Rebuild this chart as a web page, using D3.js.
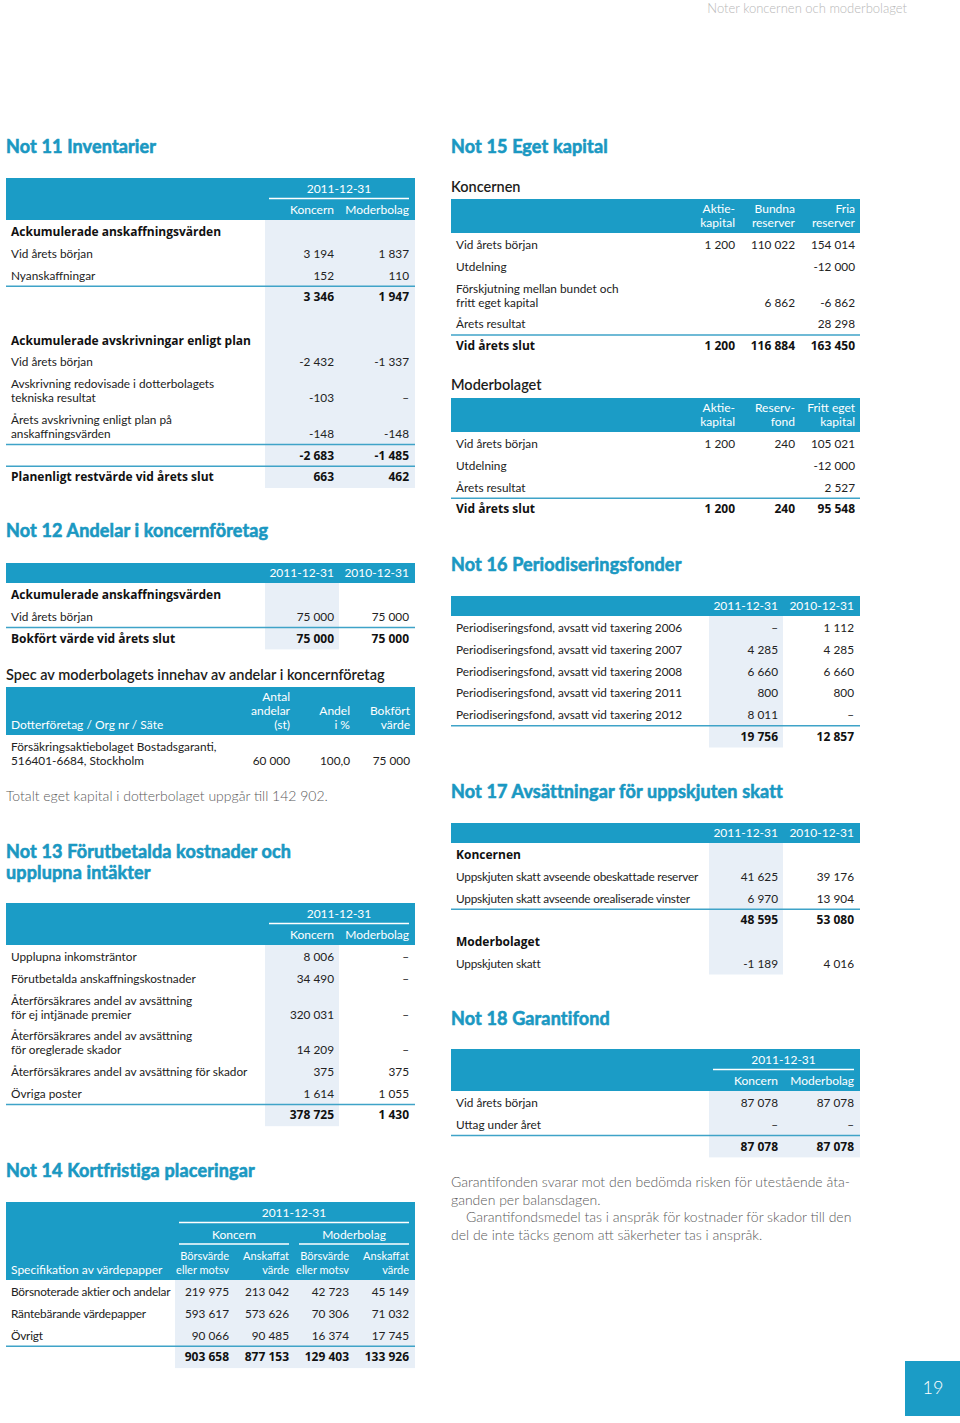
<!DOCTYPE html>
<html>
<head>
<meta charset="utf-8">
<script src="https://cdn.jsdelivr.net/npm/d3@7"></script>
<style>
  body { margin: 0; background: #fff; }
  svg { display: block; font-family: Lato, "Open Sans", sans-serif; }
  .title { fill: #1a98c2; stroke: #1a98c2; stroke-width: 0.6px; font-size: 18px; font-weight: 700; letter-spacing: 0.15px; }
  .sub { fill: #1d1d1b; font-size: 14.5px; font-weight: 600; }
  .head { fill: #fff; font-size: 12px; }
  .head.small { font-size: 11px; }
  .cell { fill: #222; font-size: 11.8px; }
  .cell.tight { letter-spacing: -0.2px; }
  .cell.bold { font-family: "Open Sans", Lato, sans-serif; font-size: 12px; font-weight: 700; fill: #111; }
  .para { fill: #5a5a5a; font-size: 14px; font-weight: 300; }
</style>
</head>
<body>
<div id="page"></div>
<script>
const width = 960;
const height = 1423;
const blue = '#1b9cc6';
const ruleColor = '#3fa3c8';
const shadeColor = '#e8eff7';
const pitch = 21.7;

// ---- data ----
const pageHeader = 'Noter koncernen och moderbolaget';
const pageNumber = '19';
const reportDate = '2011-12-31';
const dateColumns = [['2011-12-31'], ['2010-12-31']];
const entityColumns = [['Koncern'], ['Moderbolag']];

// Not 11
const not11Title = ['Not 11 Inventarier'];
const not11Rows = [
  { type: 'heading', label: ['Ackumulerade anskaffningsvärden'] },
  { type: 'item', label: ['Vid årets början'], values: [3194, 1837] },
  { type: 'item', label: ['Nyanskaffningar'], values: [152, 110] },
  { type: 'sum', values: [3346, 1947] },
  { type: 'blank' },
  { type: 'heading', label: ['Ackumulerade avskrivningar enligt plan'] },
  { type: 'item', label: ['Vid årets början'], values: [-2432, -1337] },
  { type: 'item', label: ['Avskrivning redovisade i dotterbolagets', 'tekniska resultat'], values: [-103, null] },
  { type: 'item', label: ['Årets avskrivning enligt plan på', 'anskaffningsvärden'], values: [-148, -148] },
  { type: 'sum', values: [-2683, -1485] },
  { type: 'total', label: ['Planenligt restvärde vid årets slut'], values: [663, 462] }
];

// Not 12
const not12Title = ['Not 12 Andelar i koncernföretag'];
const not12Rows = [
  { type: 'heading', label: ['Ackumulerade anskaffningsvärden'] },
  { type: 'item', label: ['Vid årets början'], values: [75000, 75000] },
  { type: 'total', label: ['Bokfört värde vid årets slut'], values: [75000, 75000] }
];
const specTitle = 'Spec av moderbolagets innehav av andelar i koncernföretag';
const specStub = ['Dotterföretag / Org nr / Säte'];
const specColumns = [['Antal', 'andelar', '(st)'], ['Andel', 'i %'], ['Bokfört', 'värde']];
const specFormats = [',d', ',.1f', ',d'];
const specRows = [
  { type: 'item', label: ['Försäkringsaktiebolaget Bostadsgaranti,', '516401-6684, Stockholm'], values: [60000, 100.0, 75000] }
];
const specNote = 'Totalt eget kapital i dotterbolaget uppgår till 142 902.';

// Not 13
const not13Title = ['Not 13 Förutbetalda kostnader och', 'upplupna intäkter'];
const not13Rows = [
  { type: 'item', label: ['Upplupna inkomsträntor'], values: [8006, null] },
  { type: 'item', label: ['Förutbetalda anskaffningskostnader'], values: [34490, null] },
  { type: 'item', label: ['Återförsäkrares andel av avsättning', 'för ej intjänade premier'], values: [320031, null] },
  { type: 'item', label: ['Återförsäkrares andel av avsättning', 'för oreglerade skador'], values: [14209, null] },
  { type: 'item', label: ['Återförsäkrares andel av avsättning för skador'], values: [375, 375] },
  { type: 'item', label: ['Övriga poster'], values: [1614, 1055] },
  { type: 'sum', values: [378725, 1430] }
];

// Not 14
const not14Title = ['Not 14 Kortfristiga placeringar'];
const not14Stub = ['Specifikation av värdepapper'];
const not14Columns = [['Börsvärde', 'eller motsv'], ['Anskaffat', 'värde'], ['Börsvärde', 'eller motsv'], ['Anskaffat', 'värde']];
const not14Rows = [
  { type: 'item', label: ['Börsnoterade aktier och andelar'], values: [219975, 213042, 42723, 45149] },
  { type: 'item', label: ['Räntebärande värdepapper'], values: [593617, 573626, 70306, 71032] },
  { type: 'item', label: ['Övrigt'], values: [90066, 90485, 16374, 17745] },
  { type: 'sum', values: [903658, 877153, 129403, 133926] }
];

// Not 15
const not15Title = ['Not 15 Eget kapital'];
const not15KoncernTitle = 'Koncernen';
const not15KoncernColumns = [['Aktie-', 'kapital'], ['Bundna', 'reserver'], ['Fria', 'reserver']];
const not15KoncernRows = [
  { type: 'item', label: ['Vid årets början'], values: [1200, 110022, 154014] },
  { type: 'item', label: ['Utdelning'], values: ['', '', -12000] },
  { type: 'item', label: ['Förskjutning mellan bundet och', 'fritt eget kapital'], values: ['', 6862, -6862] },
  { type: 'item', label: ['Årets resultat'], values: ['', '', 28298] },
  { type: 'total', label: ['Vid årets slut'], values: [1200, 116884, 163450] }
];
const not15ModerTitle = 'Moderbolaget';
const not15ModerColumns = [['Aktie-', 'kapital'], ['Reserv-', 'fond'], ['Fritt eget', 'kapital']];
const not15ModerRows = [
  { type: 'item', label: ['Vid årets början'], values: [1200, 240, 105021] },
  { type: 'item', label: ['Utdelning'], values: ['', '', -12000] },
  { type: 'item', label: ['Årets resultat'], values: ['', '', 2527] },
  { type: 'total', label: ['Vid årets slut'], values: [1200, 240, 95548] }
];

// Not 16
const not16Title = ['Not 16 Periodiseringsfonder'];
const not16Rows = [
  { type: 'item', label: ['Periodiseringsfond, avsatt vid taxering 2006'], values: [null, 1112] },
  { type: 'item', label: ['Periodiseringsfond, avsatt vid taxering 2007'], values: [4285, 4285] },
  { type: 'item', label: ['Periodiseringsfond, avsatt vid taxering 2008'], values: [6660, 6660] },
  { type: 'item', label: ['Periodiseringsfond, avsatt vid taxering 2011'], values: [800, 800] },
  { type: 'item', label: ['Periodiseringsfond, avsatt vid taxering 2012'], values: [8011, null] },
  { type: 'sum', values: [19756, 12857] }
];

// Not 17
const not17Title = ['Not 17 Avsättningar för uppskjuten skatt'];
const not17Rows = [
  { type: 'heading', label: ['Koncernen'] },
  { type: 'item', label: ['Uppskjuten skatt avseende obeskattade reserver'], values: [41625, 39176] },
  { type: 'item', label: ['Uppskjuten skatt avseende orealiserade vinster'], values: [6970, 13904] },
  { type: 'sum', values: [48595, 53080] },
  { type: 'heading', label: ['Moderbolaget'] },
  { type: 'item', label: ['Uppskjuten skatt'], values: [-1189, 4016] }
];

// Not 18
const not18Title = ['Not 18 Garantifond'];
const not18Rows = [
  { type: 'item', label: ['Vid årets början'], values: [87078, 87078] },
  { type: 'item', label: ['Uttag under året'], values: [null, null] },
  { type: 'sum', values: [87078, 87078] }
];
const not18Text = [
  ['Garantifonden svarar mot den bedömda risken för utestående åta-', 'ganden per balansdagen.'],
  ['Garantifondsmedel tas i anspråk för kostnader för skador till den', 'del de inte täcks genom att säkerheter tas i anspråk.']
];

// ---- formatting ----
const locale = d3.formatLocale({ decimal: ',', thousands: '\u00a0', grouping: [3], currency: ['', ''], minus: '-' });
const formatValue = (v, spec) => {
  if (v === '') return '';
  if (v === null) return '–';
  return locale.format(spec || ',d')(v);
};

// ---- drawing ----
const svg = d3.select('#page')
  .append('svg')
    .attr('width', width)
    .attr('height', height)
    .attr('viewBox', [0, 0, width, height]);

svg.append('rect').attr('width', width).attr('height', height).attr('fill', '#fff');

const addText = (g, x, y, str, cls, anchor) => g.append('text')
  .attr('x', x)
  .attr('y', y)
  .attr('dy', '0.35em')
  .attr('class', cls)
  .attr('text-anchor', anchor || 'start')
  .text(str);

const drawTitle = (x, y, lines) => {
  lines.forEach((s, i) => addText(svg, x, y + i * 21, s, 'title'));
};

const drawTable = (t) => {
  const g = svg.append('g');
  const n = t.columns.length;
  const x = d3.scalePoint().domain(d3.range(n)).range(t.colRange);
  const colLeft = i => x(i) - t.colWidth;
  const levels = t.groups || [];
  const labelLines = d3.max(t.columns, c => c.length);
  const headH = levels.length * 22 + labelLines * 14 + 6;
  const bottom = t.top + headH;
  const headCls = t.smallLabels ? 'head small' : 'head';
  const itemCls = t.tight ? 'cell tight' : 'cell';

  // row positions
  let y = bottom + 12;
  const placed = [];
  t.rows.forEach(r => {
    if (r.type === 'blank') { y += pitch; return; }
    const nl = r.label ? r.label.length : 1;
    const last = y + (nl - 1) * 14;
    placed.push({ row: r, first: y, last });
    y = last + pitch;
  });
  const bodyBottom = placed[placed.length - 1].last + 11;

  // header band
  g.append('rect')
    .attr('x', t.x0).attr('y', t.top)
    .attr('width', t.x1 - t.x0).attr('height', headH)
    .attr('fill', blue);

  levels.forEach((level, li) => {
    level.forEach(c => {
      const a = colLeft(c.from);
      const b = x(c.to);
      addText(g, (a + b) / 2, t.top + 11 + 22 * li, c.text, 'head', 'middle');
      const ly = t.top + 20.5 + 21.5 * li;
      g.append('line')
        .attr('x1', a).attr('x2', b).attr('y1', ly).attr('y2', ly)
        .attr('stroke', '#fff').attr('stroke-width', 1.5);
    });
  });

  t.columns.forEach((lines, i) => {
    lines.forEach((s, k) => {
      addText(g, x(i), bottom - 10 - (lines.length - 1 - k) * 14, s, headCls, 'end');
    });
  });
  if (t.stub) {
    t.stub.forEach((s, k) => addText(g, t.x0 + 5, bottom - 10 - (t.stub.length - 1 - k) * 14, s, 'head'));
  }

  // shaded columns
  if (t.shade) {
    const [from, to] = t.shade;
    const sx0 = colLeft(from) - 4;
    const sx1 = to === n - 1 ? t.x1 : x(to) + 5;
    g.append('rect')
      .attr('x', sx0).attr('y', bottom)
      .attr('width', sx1 - sx0).attr('height', bodyBottom - bottom)
      .attr('fill', shadeColor);
  }

  // rows
  placed.forEach(p => {
    const r = p.row;
    const strong = r.type !== 'item';
    if (r.type === 'sum' || r.type === 'total') {
      const ry = p.first - 10.8;
      g.append('line')
        .attr('x1', t.x0).attr('x2', t.x1).attr('y1', ry).attr('y2', ry)
        .attr('stroke', ruleColor).attr('stroke-width', 1.5);
    }
    if (r.label) {
      r.label.forEach((s, k) => addText(g, t.x0 + 5, p.first + k * 14, s, strong ? 'cell bold' : itemCls));
    }
    if (r.values) {
      r.values.forEach((v, i) => {
        addText(g, x(i), p.last, formatValue(v, t.formats && t.formats[i]), strong ? 'cell bold' : 'cell', 'end');
      });
    }
  });
};

const L = { x0: 6, x1: 415 };
const R = { x0: 451, x1: 860 };

// page header
addText(svg, 907, 8, pageHeader, 'para', 'end').style('font-size', '13px').style('fill', '#b8b8b8');

// Not 11
drawTitle(L.x0, 147, not11Title);
drawTable({ ...L, top: 178, colRange: [334, 409], colWidth: 65,
  groups: [[{ text: reportDate, from: 0, to: 1 }]],
  columns: entityColumns, rows: not11Rows, shade: [0, 1] });

// Not 12
drawTitle(L.x0, 531, not12Title);
drawTable({ ...L, top: 563, colRange: [334, 409], colWidth: 65,
  columns: dateColumns, rows: not12Rows, shade: [0, 0] });
addText(svg, L.x0, 675, specTitle, 'sub');
drawTable({ ...L, top: 687, colRange: [290, 410], colWidth: 50,
  columns: specColumns, stub: specStub, rows: specRows, formats: specFormats });
addText(svg, L.x0, 796, specNote, 'para');

// Not 13
drawTitle(L.x0, 852, not13Title);
drawTable({ ...L, top: 903, colRange: [334, 409], colWidth: 65,
  groups: [[{ text: reportDate, from: 0, to: 1 }]],
  columns: entityColumns, rows: not13Rows, shade: [0, 0] });

// Not 14
drawTitle(L.x0, 1171, not14Title);
drawTable({ ...L, top: 1202, colRange: [229, 409], colWidth: 50, smallLabels: true, tight: true,
  groups: [
    [{ text: reportDate, from: 0, to: 3 }],
    [{ text: entityColumns[0][0], from: 0, to: 1 }, { text: entityColumns[1][0], from: 2, to: 3 }]
  ],
  columns: not14Columns, stub: not14Stub, rows: not14Rows, shade: [0, 3] });

// Not 15
drawTitle(R.x0, 147, not15Title);
addText(svg, R.x0, 187, not15KoncernTitle, 'sub');
drawTable({ ...R, top: 199, colRange: [735, 855], colWidth: 50,
  columns: not15KoncernColumns, rows: not15KoncernRows });
addText(svg, R.x0, 385, not15ModerTitle, 'sub');
drawTable({ ...R, top: 398, colRange: [735, 855], colWidth: 50,
  columns: not15ModerColumns, rows: not15ModerRows });

// Not 16
drawTitle(R.x0, 565, not16Title);
drawTable({ ...R, top: 596, colRange: [778, 854], colWidth: 65,
  columns: dateColumns, rows: not16Rows, shade: [0, 0] });

// Not 17
drawTitle(R.x0, 792, not17Title);
drawTable({ ...R, top: 823, colRange: [778, 854], colWidth: 65, tight: true,
  columns: dateColumns, rows: not17Rows, shade: [0, 0] });

// Not 18
drawTitle(R.x0, 1019, not18Title);
drawTable({ ...R, top: 1049, colRange: [778, 854], colWidth: 65,
  groups: [[{ text: reportDate, from: 0, to: 1 }]],
  columns: entityColumns, rows: not18Rows, shade: [0, 1] });

let py = 1182;
not18Text.forEach((para, pi) => {
  para.forEach((s, k) => {
    addText(svg, R.x0 + (pi > 0 && k === 0 ? 15 : 0), py, s, 'para');
    py += 17.7;
  });
});

// page number
svg.append('rect').attr('x', 905).attr('y', 1361).attr('width', 55).attr('height', 55).attr('fill', blue);
addText(svg, 933, 1388, pageNumber, 'para', 'middle').style('fill', '#fff').style('font-size', '18px');
</script>
</body>
</html>
